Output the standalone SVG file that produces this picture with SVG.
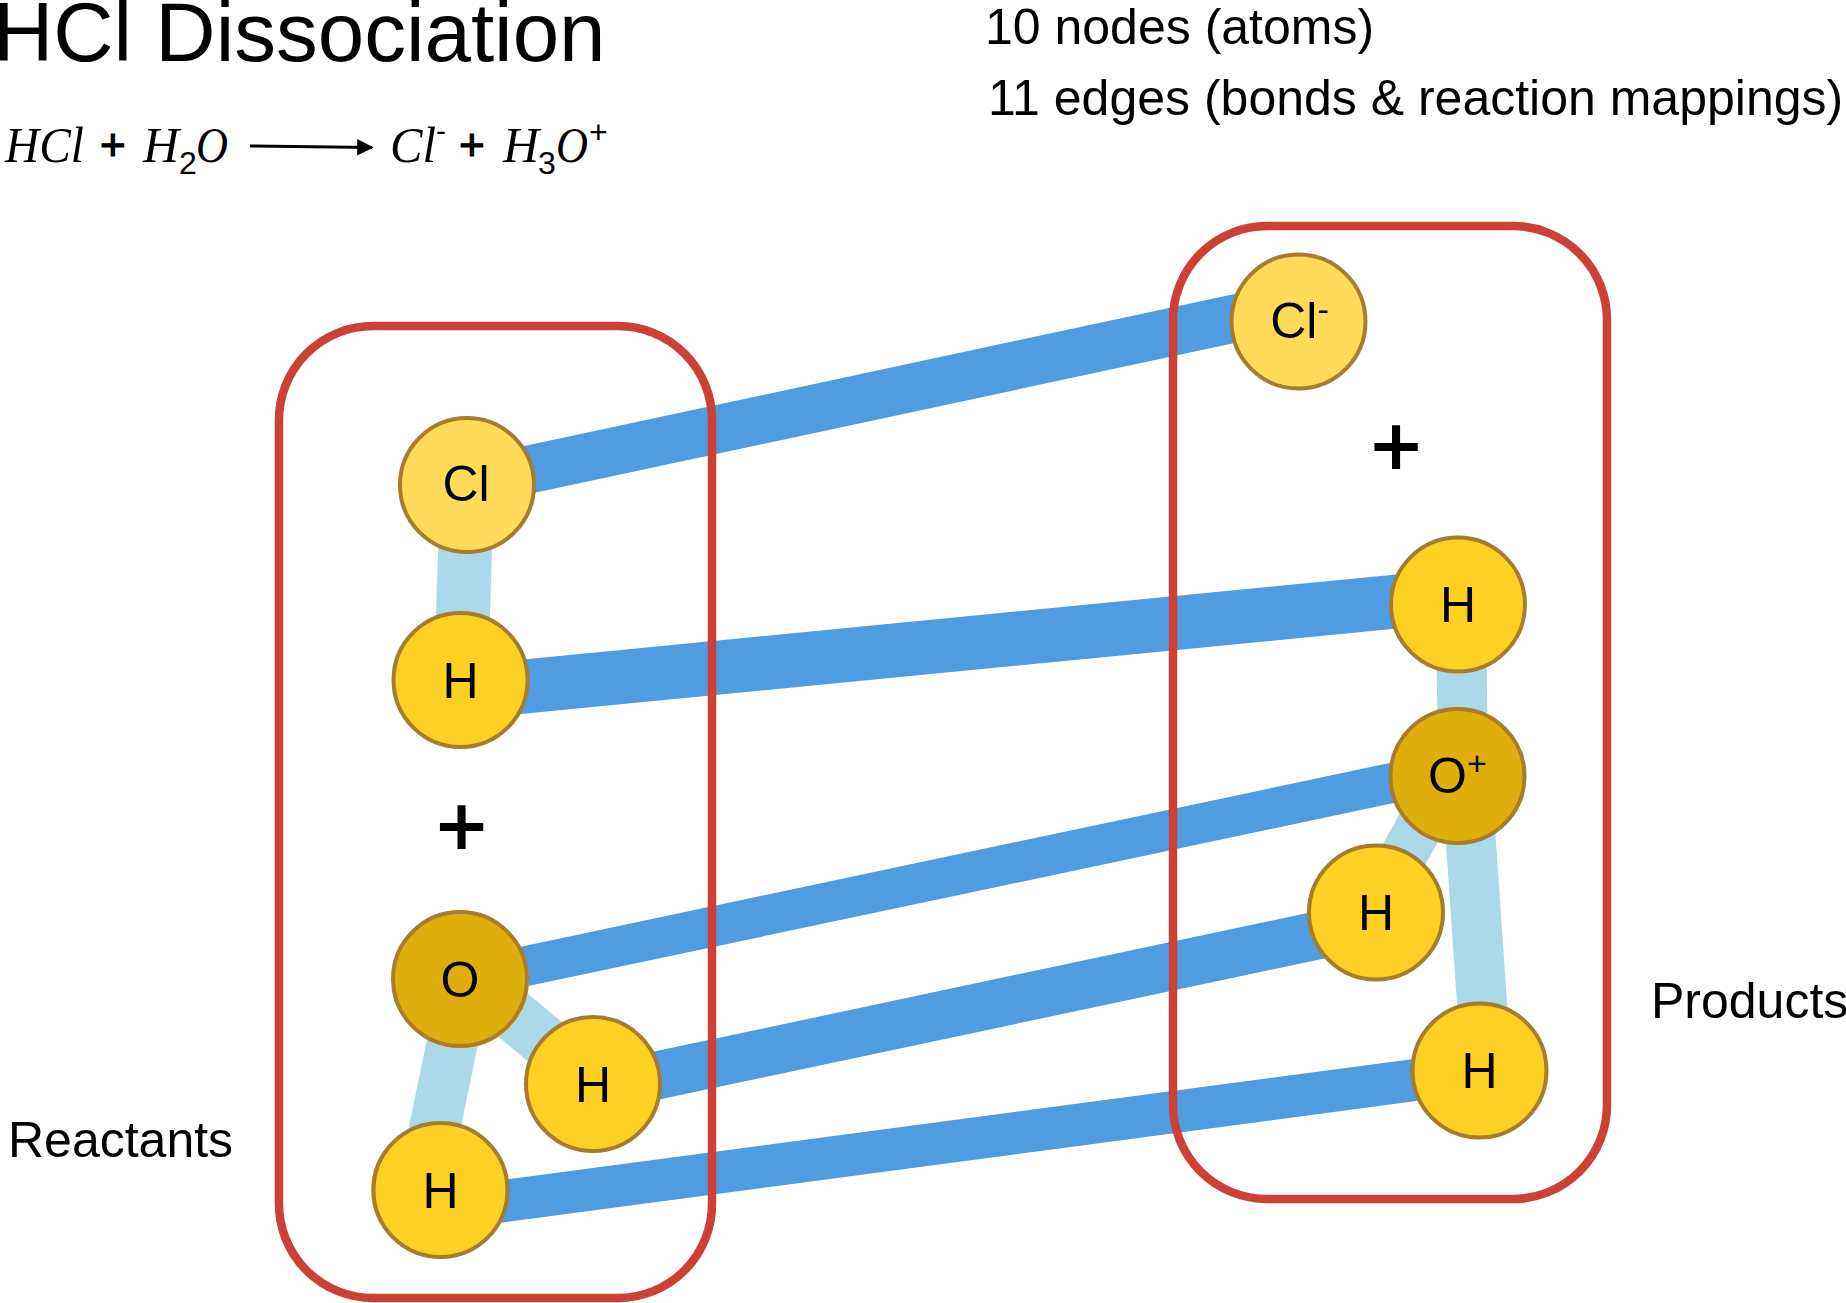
<svg xmlns="http://www.w3.org/2000/svg" width="1846" height="1303" viewBox="0 0 1846 1303">
<style>
text{font-family:"Liberation Sans",Arial,sans-serif;fill:#000}
.eq{font-family:"Liberation Serif","Times New Roman",serif;font-style:italic;font-size:50px}
.op{font-size:44px;stroke:#000;stroke-width:1.200}
.si{font-size:32px}
.lab{font-size:50px}
.n{font-size:50px;text-anchor:middle}
.plus{font-size:85px;text-anchor:middle;stroke:#000;stroke-width:2}
.map{stroke:#4F9DE0;fill:none}
.bond{stroke:#ABD9EA;fill:none}
.grp{fill:none;stroke:#CC4035;stroke-width:8.500}
.atom{stroke:#A67C2E;stroke-width:4}
.h{fill:#FDD123}.cl{fill:#FEDB58}.o{fill:#DDAE0C}
</style>
<defs><marker id="ah" viewBox="0 0 10 10" refX="9" refY="5" markerWidth="5.500" markerHeight="5.500" orient="auto"><path d="M0 0L10 5L0 10Z" fill="#000"/></marker></defs>
<rect width="1846" height="1303" fill="#fff"/>
<g id="title">
<text x="-7" y="61" font-size="83.500">HCl Dissociation</text>
</g>
<g id="equation">
<text class="eq" x="5" y="162" textLength="79" lengthAdjust="spacingAndGlyphs">HCl</text>
<text class="op" x="100" y="160">+</text>
<text class="eq" x="143" y="162" textLength="36" lengthAdjust="spacingAndGlyphs">H</text>
<text class="si" x="179" y="174">2</text>
<text class="eq" x="196" y="162" textLength="32" lengthAdjust="spacingAndGlyphs">O</text>
<path d="M250 146L372 147.500" stroke="#000" stroke-width="3" fill="none" marker-end="url(#ah)"/>
<text class="eq" x="390" y="162" textLength="46" lengthAdjust="spacingAndGlyphs">Cl</text>
<text x="436" y="141" font-size="30">-</text>
<text class="op" x="459" y="160">+</text>
<text class="eq" x="503" y="162" textLength="36" lengthAdjust="spacingAndGlyphs">H</text>
<text class="si" x="538" y="174">3</text>
<text class="eq" x="556" y="162" textLength="32" lengthAdjust="spacingAndGlyphs">O</text>
<text x="589" y="143" font-size="32">+</text>
</g>
<g id="stats">
<text class="lab" x="985" y="44">10 nodes (atoms)</text>
<text class="lab" x="988" y="115">11 edges (bonds &amp; reaction mappings)</text>
</g>
<g id="connectors">
<line class="bond" x1="467" y1="485" x2="461" y2="680" stroke-width="54"/>
<line class="bond" x1="465.700" y1="978" x2="422" y2="1189" stroke-width="51"/>
<line class="bond" x1="460" y1="970.800" x2="593" y2="1082" stroke-width="52"/>
<line class="bond" x1="1461" y1="604" x2="1463" y2="776" stroke-width="50"/>
<line class="bond" x1="1447.700" y1="776" x2="1372" y2="912" stroke-width="47"/>
<line class="bond" x1="1466.400" y1="776" x2="1486.600" y2="1070" stroke-width="50"/>
<line class="map" x1="466" y1="483" x2="1298" y2="305" stroke-width="48"/>
<line class="map" x1="460" y1="692.700" x2="1458" y2="595.500" stroke-width="54"/>
<line class="map" x1="460" y1="980" x2="1458" y2="769" stroke-width="40"/>
<line class="map" x1="593" y1="1089" x2="1376" y2="923" stroke-width="48"/>
<line class="map" x1="440" y1="1209.500" x2="1479" y2="1071.500" stroke-width="42"/>
</g>
<g id="groups">
<rect id="reactants-box" class="grp" x="279" y="326" width="433" height="972" rx="94"/>
<rect id="products-box" class="grp" x="1173" y="226" width="434" height="973" rx="94"/>
</g>
<g id="atom-cl"><circle class="atom cl" cx="467" cy="485" r="67"/><text class="n" x="466" y="501">Cl</text></g>
<g id="atom-h1"><circle class="atom h" cx="460.500" cy="680" r="67"/><text class="n" x="460.500" y="698">H</text></g>
<g id="plus-left"><text class="plus" x="461.500" y="856">+</text></g>
<g id="atom-o"><circle class="h" cx="461" cy="980.500" r="68"/><circle class="atom o" cx="460" cy="979" r="67"/><text class="n" x="460" y="997">O</text></g>
<g id="atom-h2"><circle class="atom h" cx="593" cy="1084" r="67"/><text class="n" x="593" y="1102">H</text></g>
<g id="atom-h3"><circle class="h" cx="439" cy="1190" r="68"/><circle class="atom h" cx="440.500" cy="1190" r="67"/><text class="n" x="440.500" y="1208">H</text></g>
<g id="atom-clm"><circle class="atom cl" cx="1298.500" cy="321.500" r="67"/><text class="n" x="1299.500" y="338">Cl<tspan font-size="34" dy="-17">-</tspan></text></g>
<g id="plus-right"><text class="plus" x="1396" y="476">+</text></g>
<g id="atom-h4"><circle class="atom h" cx="1458" cy="604.500" r="67"/><text class="n" x="1458" y="622">H</text></g>
<g id="atom-op"><circle class="atom o" cx="1457.500" cy="776" r="67"/><text class="n" x="1457.500" y="793">O<tspan font-size="34" dy="-18">+</tspan></text></g>
<g id="atom-h5"><circle class="atom h" cx="1376" cy="912.500" r="67"/><text class="n" x="1376" y="930">H</text></g>
<g id="atom-h6"><circle class="atom h" cx="1479.500" cy="1070.500" r="67"/><text class="n" x="1479.500" y="1088">H</text></g>
<g id="side-labels">
<text class="lab" x="8" y="1157">Reactants</text>
<text class="lab" x="1651" y="1018">Products</text>
</g>
</svg>
